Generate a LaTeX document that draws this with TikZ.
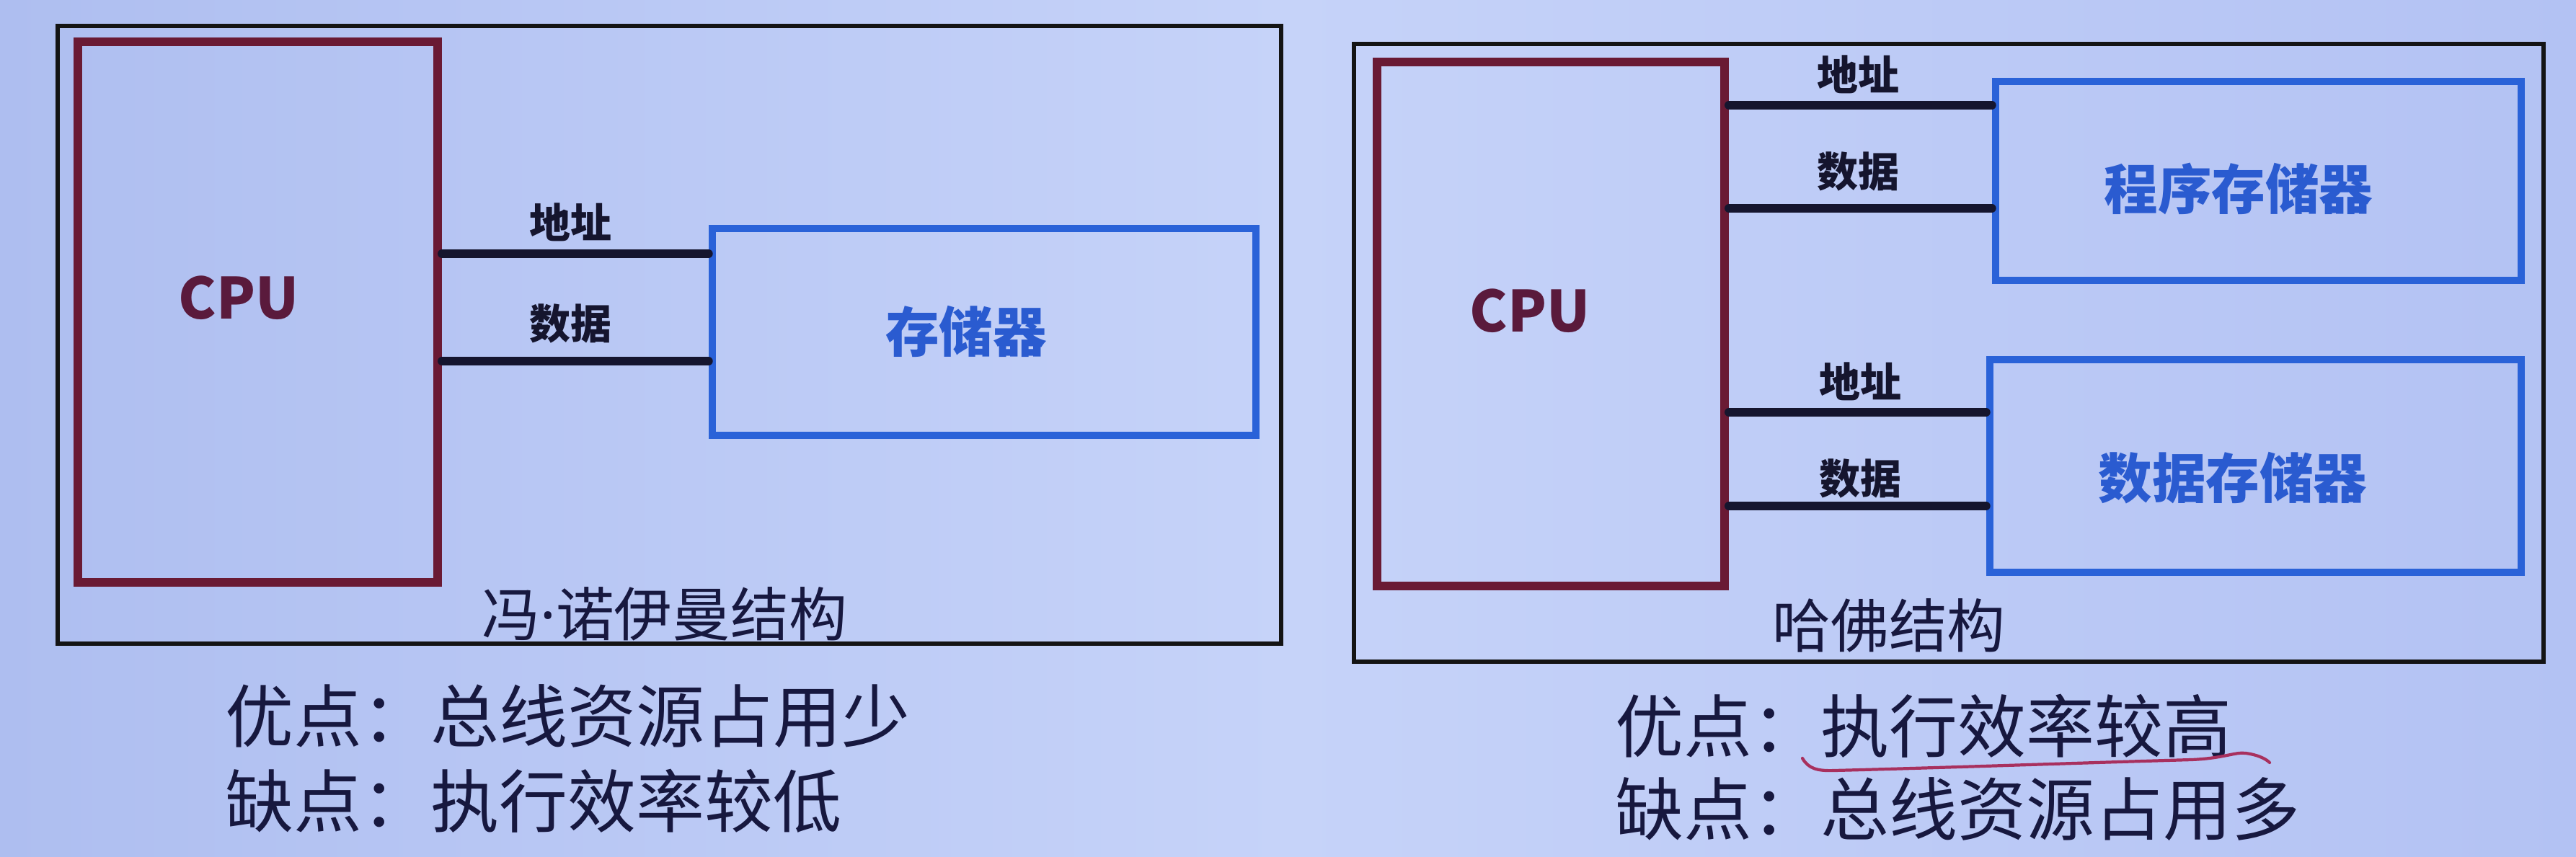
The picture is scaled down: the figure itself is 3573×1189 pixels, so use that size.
\documentclass[tikz,border=0pt]{standalone}
\usepackage{fontspec}
\setmainfont{Noto Sans CJK SC}
\newfontfamily\latindot{Noto Sans}
\usetikzlibrary{fit}
\definecolor{bgL}{HTML}{AEBEF0}
\definecolor{bgM}{HTML}{C6D3F9}
\definecolor{bgR}{HTML}{B3C2F3}
\definecolor{cpuRed}{HTML}{6A1A34}
\definecolor{cpuText}{HTML}{5A1A3C}
\definecolor{memBlue}{HTML}{2A62D8}
\definecolor{memText}{HTML}{2A5BD0}
\definecolor{busBlack}{HTML}{15152E}
\definecolor{txtDark}{HTML}{17183F}
\definecolor{penRed}{HTML}{A8305E}
\begin{document}
\begin{tikzpicture}[x=0.01cm,y=-0.01cm,
  outerbox/.style={draw=black!92, line width=1.5pt, inner sep=0pt},
  cpubox/.style={draw=cpuRed, line width=3.4pt, inner sep=0pt},
  membox/.style={draw=memBlue, line width=3pt, inner sep=0pt},
  bus/.style={draw=busBlack, line width=3.4pt, line cap=round},
  cputxt/.style={text=cpuText, font=\fontsize{22.4}{26}\selectfont\bfseries, inner sep=0pt},
  memtxt/.style={text=memText, font=\fontsize{21.2}{25}\selectfont\bfseries, inner sep=0pt},
  bustxt/.style={text=busBlack, font=\fontsize{16.2}{19}\selectfont\bfseries, inner sep=0pt},
  captxt/.style={text=txtDark, font=\fontsize{23}{27}\selectfont, inner sep=0pt},
  notetxt/.style={text=txtDark, font=\fontsize{27}{31}\selectfont, inner sep=0pt, anchor=west},
  pen/.style={draw=penRed, line width=1.2pt, line cap=round}
]
\shade[left color=bgL, right color=bgR, middle color=bgM] (0,0) rectangle (3573,1189);
\useasboundingbox (0,0) rectangle (3573,1189);

% ---------- von Neumann ----------
\node[outerbox, fit={(80,36) (1777,893)}] (outL) {};
\node[cpubox, fit={(108,58) (607,808)}] (cpuL) {};
\node[membox, fit={(988,317) (1742,604)}] (memL) {};
\node[cputxt] (cpuLt) at (331,413) {CPU};
\node[memtxt] (memLt) at (1340,460) {存储器};
\coordinate (yLa) at (0,352);
\coordinate (yLd) at (0,501);
\draw[bus] (cpuL.east |- yLa) -- (memL.west |- yLa);
\draw[bus] (cpuL.east |- yLd) -- (memL.west |- yLd);
\node[bustxt] (labLa) at (791,308) {地址};
\node[bustxt] (labLd) at (791,449) {数据};
\node[captxt] (capL) at (922,852) {冯{\latindot ·}诺伊曼结构};

% ---------- Harvard ----------
\node[outerbox, fit={(1878,61) (3528,918)}] (outR) {};
\node[cpubox, fit={(1910,86) (2392,813)}] (cpuR) {};
\node[membox, fit={(2768,113) (3497,389)}] (progR) {};
\node[membox, fit={(2760,499) (3497,794)}] (dataR) {};
\node[cputxt] (cpuRt) at (2122,431) {CPU};
\node[memtxt] (progRt) at (3105,262) {程序存储器};
\node[memtxt] (dataRt) at (3097,663) {数据存储器};
\coordinate (yRa1) at (0,146);
\coordinate (yRd1) at (0,289);
\coordinate (yRa2) at (0,572);
\coordinate (yRd2) at (0,702);
\draw[bus] (cpuR.east |- yRa1) -- (progR.west |- yRa1);
\draw[bus] (cpuR.east |- yRd1) -- (progR.west |- yRd1);
\draw[bus] (cpuR.east |- yRa2) -- (dataR.west |- yRa2);
\draw[bus] (cpuR.east |- yRd2) -- (dataR.west |- yRd2);
\node[bustxt] (labRa1) at (2577,103) {地址};
\node[bustxt] (labRd1) at (2577,238) {数据};
\node[bustxt] (labRa2) at (2580,529) {地址};
\node[bustxt] (labRd2) at (2580,664) {数据};
\node[captxt] (capR) at (2620,868) {哈佛结构};

% ---------- notes ----------
\node[notetxt] (proL) at (312,994) {优点：总线资源占用少};
\node[notetxt] (conL) at (312,1111) {缺点：执行效率较低};
\node[notetxt] (proR) at (2240,1007) {优点：执行效率较高};
\node[notetxt] (conR) at (2240,1123) {缺点：总线资源占用多};

% hand-drawn underline
\draw[pen] (2500,1052) .. controls (2508,1066) and (2520,1070) .. (2545,1069)
  .. controls (2700,1065) and (2900,1058) .. (3040,1054)
  .. controls (3085,1052) and (3100,1043) .. (3115,1045)
  .. controls (3130,1047) and (3142,1052) .. (3148,1058);
\end{tikzpicture}
\end{document}
